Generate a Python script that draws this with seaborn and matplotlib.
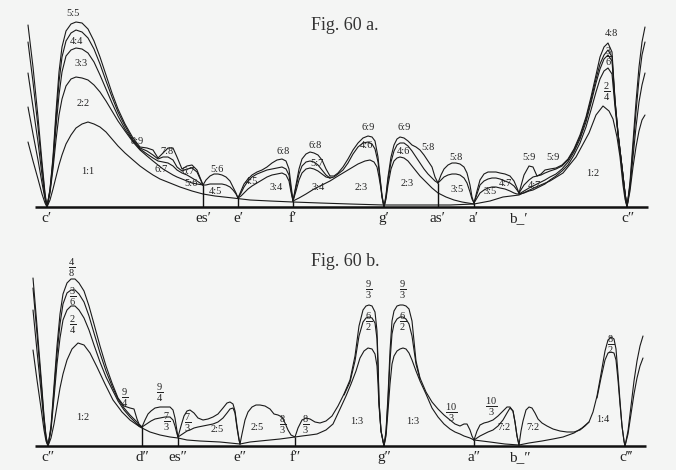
import pandas as pd
import seaborn as sns
import matplotlib.pyplot as plt

sns.set_theme(style="white")
plt.rcParams['font.family'] = ['Liberation Serif', 'DejaVu Serif']
plt.rcParams['mathtext.fontset'] = 'custom'
plt.rcParams['mathtext.rm'] = 'Liberation Serif'
plt.rcParams['mathtext.it'] = 'Liberation Serif:italic'

# ---------------- Fig. 60 a (c' .. c'') ----------------
# x = position on the scale, every list after it = height of one curve
a_left_x = [28, 33, 38, 42, 45, 47]
a_left = [[182, 140, 90, 45, 14, 0], [165, 125, 80, 40, 12, 0], [134, 100, 65, 32, 10, 0],
          [100, 73, 47, 24, 8, 0], [65, 46, 28, 13, 4, 0]]

a1_x = [47, 50, 53, 56, 59, 62, 66, 71, 76, 82, 88, 94, 100, 106, 112, 118, 125, 133,
        140, 147, 153, 158, 163, 168, 173, 177, 182, 187, 192, 197, 203]
a1_5 = [0, 18, 50, 95, 135, 160, 176, 183, 185, 184, 178, 166, 150, 132, 114, 98, 83, 69,
        60, 59, 57, 49, 54, 59, 59, 50, 38, 41, 42, 37, 22]
a1_4 = [0, 17, 47, 88, 125, 150, 166, 174, 177, 175, 169, 158, 143, 126, 110, 95, 81, 67,
        59, 56, 52, 48, 50, 50, 47, 40, 36, 38, 39, 35, 22]
a1_3 = [0, 16, 43, 80, 112, 135, 151, 157, 159, 158, 154, 145, 132, 118, 104, 91, 78, 66,
        58, 53, 49, 46, 45, 44, 41, 37, 34, 32, 29, 26, 22]
a1_2 = [0, 14, 38, 67, 92, 108, 121, 128, 130, 129, 127, 122, 115, 106, 96, 86, 76, 65,
        57, 51, 46, 42, 38, 35, 32, 30, 28, 26, 24, 23, 22]

a_base_x = [47, 50, 53, 56, 59, 62, 66, 71, 76, 82, 88, 94, 100, 106, 112, 118, 125, 133,
            140, 147, 153, 160, 170, 180, 192, 203, 215, 233, 250, 270, 293, 320, 350, 384,
            420, 450, 474, 490, 503, 519, 536, 550, 563, 576, 589, 596, 603, 609, 613, 617,
            620, 623, 625, 627]
a_base = [0, 7, 18, 30, 42, 52, 63, 72, 79, 83, 85, 83, 80, 75, 68, 61, 54, 47,
          41, 36, 32, 28, 24, 20, 16, 13, 11, 9, 7, 6, 5, 4, 3, 2,
          2, 2, 3, 6, 10, 12, 20, 26, 34, 50, 74, 92, 101, 96, 88, 70,
          50, 22, 8, 0]

a2_x = [203, 206, 210, 214, 218, 222, 226, 230, 233, 236, 238]
a2_top = [22, 27, 31, 33, 33, 32, 30, 26, 20, 14, 9]
a2_mid = [22, 22, 23, 23, 23, 23, 22, 20, 17, 13, 9]

a3_x = [238, 241, 244, 248, 252, 257, 262, 267, 272, 277, 282, 286, 289, 291, 293]
a3_top = [9, 16, 23, 28, 32, 35, 37, 40, 44, 47, 48, 46, 38, 22, 6]
a3_mid = [9, 14, 20, 26, 30, 33, 35, 37, 38, 39, 40, 38, 32, 18, 6]
a3_low = [9, 11, 14, 18, 21, 24, 27, 30, 32, 33, 34, 32, 26, 15, 6]

a4_x = [293, 296, 299, 302, 306, 310, 314, 318, 322, 326, 330]
a4_top = [6, 22, 38, 48, 53, 55, 54, 52, 47, 38, 31]
a4_mid = [6, 20, 33, 41, 45, 46, 45, 42, 37, 32, 29]
a4_low = [6, 16, 27, 34, 38, 39, 38, 36, 33, 30, 29]

a5_x = [330, 334, 338, 343, 348, 353, 358, 363, 368, 372, 375, 378, 380, 382, 384]
a5_top = [31, 31, 34, 40, 48, 57, 64, 69, 71, 70, 66, 50, 30, 12, 0]
a5_mid = [29, 30, 33, 37, 44, 53, 60, 64, 65, 63, 58, 45, 28, 10, 0]

a23_x = [293, 299, 306, 314, 322, 330, 338, 348, 358, 365, 370, 374, 377, 379, 381, 382, 384,
         386, 388, 391, 394, 397, 400, 404, 408, 412, 416, 420, 426, 432, 438, 446, 454, 462,
         468, 474]
a23 = [6, 9, 13, 18, 22, 26, 31, 37, 43, 46, 47, 45, 40, 30, 18, 10, 0,
       8, 22, 38, 46, 49, 50, 49, 46, 41, 36, 31, 25, 19, 14, 10, 7, 5,
       4, 3]

a6_x = [384, 386, 388, 391, 394, 397, 400, 404, 408, 412, 416, 420, 424, 428, 432, 435, 438]
a6_top = [0, 12, 30, 50, 62, 68, 70, 69, 66, 62, 60, 57, 52, 46, 40, 30, 24]
a6_mid = [0, 10, 27, 45, 56, 62, 64, 64, 61, 56, 50, 44, 38, 33, 29, 26, 24]

a7_x = [438, 441, 444, 448, 452, 456, 460, 464, 467, 470, 472, 474]
a7_top = [24, 32, 38, 42, 44, 44, 43, 40, 34, 22, 10, 4]
a7_mid = [24, 27, 30, 32, 33, 33, 32, 29, 24, 15, 8, 4]

a8_x = [474, 477, 480, 484, 488, 492, 496, 500, 505, 510, 514, 517, 519]
a8_top = [4, 16, 27, 33, 35, 35, 35, 34, 33, 31, 26, 19, 14]
a8_mid = [4, 13, 22, 26, 28, 29, 29, 28, 26, 24, 21, 17, 14]
a8_low = [4, 9, 14, 17, 19, 20, 20, 19, 18, 16, 14, 13, 13]

a9_x = [519, 524, 529, 533, 537, 541, 545, 550, 556, 562, 568, 574, 580, 586, 591, 596,
        600, 604, 608, 612, 615, 618, 622, 625, 627]
a9_5 = [14, 32, 41, 40, 31, 33, 37, 38, 39, 42, 48, 58, 72, 90, 110, 132,
        150, 160, 164, 155, 107, 74, 40, 14, 0]
a9_4 = [14, 22, 27, 30, 31, 32, 34, 36, 38, 41, 47, 57, 70, 88, 107, 128,
        143, 152, 157, 150, 107, 74, 40, 14, 0]
a9_3 = [13, 16, 19, 21, 23, 25, 27, 30, 33, 38, 45, 55, 68, 85, 104, 124,
        138, 148, 152, 146, 105, 74, 40, 14, 0]
a9_2 = [13, 14, 16, 17, 19, 21, 23, 27, 31, 36, 42, 52, 64, 80, 97, 115,
        128, 136, 139, 133, 100, 72, 40, 14, 0]

a_right_x = [627, 630, 633, 636, 639, 642, 645]
a_right = [[0, 25, 65, 105, 140, 165, 180], [0, 22, 58, 95, 128, 152, 165],
           [0, 20, 50, 80, 105, 122, 134], [0, 16, 40, 60, 76, 87, 92]]

a_notes = ["c′", "es′", "e′", "f′", "g′", "as′", "a′", "b_′", "c″"]
a_note_x = [47, 203, 238, 293, 384, 437, 474, 518, 628]
a_mark_x = [203, 238, 293, 438, 474]
a_mark_h = [22, 9, 6, 24, 4]

a_ratio = ["5:5", "4:4", "3:3", "2:2", "1:1", "8:9", "7:8", "6:7", "6:7", "5:6", "5:6", "4:5",
           "4:5", "3:4", "6:8", "6:8", "5:7", "3:4", "6:9", "4:6", "2:3", "6:9", "4:6", "2:3",
           "5:8", "5:8", "3:5", "3:5", "4:7", "5:9", "5:9", "4:7", "1:2", r"$\frac{2}{4}$",
           r"$\frac{3}{6}$", "4:8"]
a_ratio_x = [73, 76, 81, 83, 88, 137, 167, 161, 188, 191, 217, 215, 251, 276, 283, 315, 317,
             318, 368, 366, 361, 404, 403, 407, 428, 456, 457, 490, 505, 529, 553, 534, 593,
             607, 609, 611]
a_ratio_h = [193, 166, 144, 103, 35, 65, 55, 37, 35, 23, 37, 16, 25, 20, 55, 61, 44, 20, 79,
             61, 20, 79, 55, 24, 59, 49, 18, 15, 24, 50, 50, 21, 33, 115, 150, 174]

# ---------------- Fig. 60 b (c'' .. c''') ----------------
b_left_x = [33, 37, 41, 44, 46, 48]
b_left = [[168, 120, 70, 30, 10, 0], [158, 112, 65, 28, 9, 0], [136, 95, 55, 24, 8, 0],
          [96, 66, 38, 16, 5, 0]]

b1_x = [48, 51, 54, 57, 60, 63, 67, 71, 75, 79, 84, 89, 94, 100, 106, 112, 118, 124, 130,
        134, 137, 139, 142]
b1_top = [0, 20, 60, 100, 132, 152, 163, 167, 167, 163, 155, 140, 122, 100, 80, 63, 48, 40,
          38, 37, 27, 22, 19]
b1_mid = [0, 18, 55, 92, 122, 142, 153, 156, 156, 152, 144, 130, 113, 93, 75, 60, 47, 38,
          31, 27, 24, 21, 19]
b1_low = [0, 16, 48, 82, 108, 126, 136, 140, 140, 136, 128, 116, 101, 84, 69, 57, 45, 36,
          29, 25, 22, 20, 19]

b_base_x = [48, 51, 54, 57, 60, 63, 67, 72, 78, 84, 90, 97, 105, 113, 122, 130, 140, 150,
            160, 170, 178, 187, 200, 220, 240, 250, 260, 270, 280, 295, 302, 310, 317, 326,
            333, 340, 346, 351, 356, 360, 364, 368, 372, 375, 377, 378, 379, 381, 384]
b_base = [0, 8, 22, 40, 58, 72, 86, 97, 103, 101, 93, 79, 62, 46, 34, 26, 19, 14,
          11, 9, 8, 6, 5, 4, 2, 4, 5, 6, 7, 9, 10, 11, 12, 16,
          22, 37, 50, 62, 75, 88, 95, 98, 97, 92, 80, 62, 40, 15, 0]

b2_x = [142, 145, 148, 151, 155, 160, 165, 170, 173, 175, 177, 178]
b2_top = [19, 26, 32, 35, 38, 39, 39, 39, 36, 28, 15, 9]
b2_mid = [19, 21, 23, 25, 27, 28, 29, 29, 26, 20, 12, 9]

b3_x = [178, 181, 184, 187, 190, 194, 198, 203, 208, 213, 218, 223, 227, 230, 233, 235,
        237, 239, 240]
b3_top = [9, 20, 30, 35, 36, 33, 28, 26, 27, 29, 32, 38, 43, 44, 42, 35, 20, 7, 2]
b3_mid = [9, 11, 13, 15, 16, 18, 19, 20, 21, 22, 24, 28, 33, 37, 38, 33, 18, 6, 2]

b4_x = [240, 242, 245, 248, 252, 256, 260, 265, 270, 274, 278, 282, 285, 288, 291, 293, 295,
        298, 302, 306, 310, 315, 320, 326, 332, 338, 344, 350, 355, 359, 363, 366, 369,
        372, 375, 377, 378, 379, 381, 384]
b4_top = [2, 12, 26, 34, 39, 41, 41, 40, 37, 32, 31, 29, 23, 16, 11, 10, 9,
          18, 26, 28, 27, 24, 23, 25, 30, 40, 52, 66, 90, 120, 136, 140, 141,
          140, 134, 115, 85, 45, 15, 0]
b5_x = [344, 350, 355, 359, 363, 366, 369, 372, 375, 377, 378, 379, 381, 384]
b5_mid = [51, 64, 85, 110, 124, 128, 129, 128, 123, 107, 80, 45, 15, 0]

b6_x = [384, 386, 388, 390, 392, 394, 397, 400, 403, 406, 409, 412, 416, 420, 426, 432,
        438, 444, 450, 455, 460, 464, 467, 470, 472, 474]
b6_top = [0, 15, 50, 95, 125, 135, 140, 141, 141, 140, 137, 125, 85, 68, 54, 44,
          37, 31, 26, 22, 20, 22, 22, 16, 10, 6]
b6_low = [0, 10, 35, 62, 82, 90, 95, 97, 98, 97, 93, 86, 75, 65, 52, 38,
          29, 22, 17, 14, 12, 10, 9, 8, 7, 6]
b6m_x = [384, 386, 388, 390, 392, 394, 397, 400, 403, 406, 409, 412, 416, 420]
b6_mid = [0, 13, 45, 85, 112, 122, 127, 129, 129, 127, 122, 110, 82, 67]

b7_x = [474, 477, 480, 484, 488, 493, 498, 503, 507, 510, 513, 515, 517, 519]
b7_top = [6, 15, 21, 23, 24, 26, 30, 35, 39, 39, 35, 24, 10, 1]
b7_mid = [6, 8, 10, 12, 14, 16, 20, 26, 33, 38, 35, 24, 10, 1]
b7l_x = [474, 490, 505, 519, 529, 542, 553, 563, 574, 582, 589]
b7_low = [6, 4, 2, 1, 3, 5, 7, 9, 13, 18, 24]

b8_x = [519, 521, 523, 526, 529, 532, 535, 538, 542, 547, 553, 560, 567, 574, 580, 585,
        589, 593, 597, 601, 605, 608, 611, 614, 616, 618, 620, 622, 624, 625]
b8_top = [1, 15, 25, 36, 39, 38, 33, 27, 23, 20, 17, 15, 14, 14, 16, 20,
          24, 34, 50, 72, 95, 106, 109, 107, 97, 72, 45, 20, 5, 0]
b8m_x = [597, 601, 605, 608, 611, 614, 616, 618, 620, 622, 624, 625]
b8_mid = [48, 68, 86, 93, 94, 93, 86, 66, 42, 20, 5, 0]

b_right_x = [625, 628, 631, 634, 637, 640, 643]
b_right = [[0, 15, 40, 65, 85, 100, 110], [0, 12, 32, 52, 68, 80, 88]]

b_notes = ["c″", "d″", "es″", "e″", "f″", "g″", "a″", "b_″", "c‴"]
b_note_x = [48, 142, 178, 240, 295, 384, 474, 520, 626]
b_mark_x = [142, 178, 295, 474]
b_mark_h = [19, 9, 9, 6]

b_ratio = [r"$\frac{4}{8}$", r"$\frac{3}{6}$", r"$\frac{2}{4}$", "1:2", r"$\frac{9}{4}$",
           r"$\frac{9}{4}$", r"$\frac{7}{3}$", r"$\frac{7}{3}$", "2:5", "2:5", r"$\frac{8}{3}$",
           r"$\frac{8}{3}$", "1:3", r"$\frac{9}{3}$", r"$\frac{6}{2}$", r"$\frac{9}{3}$",
           r"$\frac{6}{2}$", "1:3", r"$\frac{10}{3}$", r"$\frac{10}{3}$", "7:2", "7:2", "1:4",
           r"$\frac{8}{2}$"]
b_ratio_x = [72, 73, 73, 83, 125, 160, 167, 188, 217, 257, 283, 306, 357, 369, 369, 403,
             403, 413, 451, 491, 504, 533, 603, 611]
b_ratio_h = [178, 149, 121, 29, 48, 53, 24, 23, 16, 19, 21, 21, 24, 156, 124, 156, 124, 24,
             33, 39, 18, 18, 26, 101]

# ---------------- long-form table of all curves ----------------
rows = []


def add(panel, name, xs, *curves):
    for i, ys in enumerate(curves):
        for x, y in zip(xs, ys):
            rows.append({"panel": panel, "seg": f"{name}{i}", "x": x, "h": y})


add("a", "aL", a_left_x, *a_left)
add("a", "a1", a1_x, a1_5, a1_4, a1_3, a1_2)
add("a", "ab", a_base_x, a_base)
add("a", "a2", a2_x, a2_top, a2_mid)
add("a", "a3", a3_x, a3_top, a3_mid, a3_low)
add("a", "a4", a4_x, a4_top, a4_mid, a4_low)
add("a", "a5", a5_x, a5_top, a5_mid)
add("a", "a23", a23_x, a23)
add("a", "a6", a6_x, a6_top, a6_mid)
add("a", "a7", a7_x, a7_top, a7_mid)
add("a", "a8", a8_x, a8_top, a8_mid, a8_low)
add("a", "a9", a9_x, a9_5, a9_4, a9_3, a9_2)
add("a", "aR", a_right_x, *a_right)

add("b", "bL", b_left_x, *b_left)
add("b", "b1", b1_x, b1_top, b1_mid, b1_low)
add("b", "bb", b_base_x, b_base)
add("b", "b2", b2_x, b2_top, b2_mid)
add("b", "b3", b3_x, b3_top, b3_mid)
add("b", "b4", b4_x, b4_top)
add("b", "b5", b5_x, b5_mid)
add("b", "b6", b6_x, b6_top, b6_low)
add("b", "b6m", b6m_x, b6_mid)
add("b", "b7", b7_x, b7_top, b7_mid)
add("b", "b7l", b7l_x, b7_low)
add("b", "b8", b8_x, b8_top)
add("b", "b8m", b8m_x, b8_mid)
add("b", "bR", b_right_x, *b_right)

df = pd.DataFrame(rows)

bg = "#f4f5f4"
fig = plt.figure(figsize=(6.76, 4.70), dpi=100, facecolor=bg)
ax_a = fig.add_axes([0, 0.5, 1, 0.5])
ax_b = fig.add_axes([0, 0, 1, 0.5])

panels = [
    (ax_a, "a", (-28, 207), (35, 648), a_notes, a_note_x, a_mark_x, a_mark_h,
     a_ratio, a_ratio_x, a_ratio_h, "Fig. 60 a.", 182),
    (ax_b, "b", (-24, 211), (35, 646), b_notes, b_note_x, b_mark_x, b_mark_h,
     b_ratio, b_ratio_x, b_ratio_h, "Fig. 60 b.", 184),
]

for (ax, key, ylim, base, notes, note_x, mark_x, mark_h,
     ratio, ratio_x, ratio_h, title, title_h) in panels:
    ax.set_facecolor(bg)
    sns.lineplot(data=df[df.panel == key], x="x", y="h", units="seg", estimator=None,
                 sort=False, color="#1a1a1a", lw=0.8, ax=ax)
    ax.hlines(0, base[0], base[1], color="#111111", lw=1.8)
    ax.vlines(mark_x, 0, mark_h, color="#111111", lw=1.0)
    for name, x in zip(notes, note_x):
        ax.text(x, -5, name, ha="center", va="top", fontsize=11, color="#222222")
    for name, x, h in zip(ratio, ratio_x, ratio_h):
        size = 10.5 if name.startswith("$") else 7.5
        ax.text(x, h, name, ha="center", va="center", fontsize=size, color="#222222")
    ax.text(345, title_h, title, ha="center", va="center", fontsize=13, color="#333333")
    ax.set_xlim(0, 676)
    ax.set_ylim(*ylim)
    ax.set_axis_off()

fig.savefig("out.png", dpi=100, facecolor=bg)
